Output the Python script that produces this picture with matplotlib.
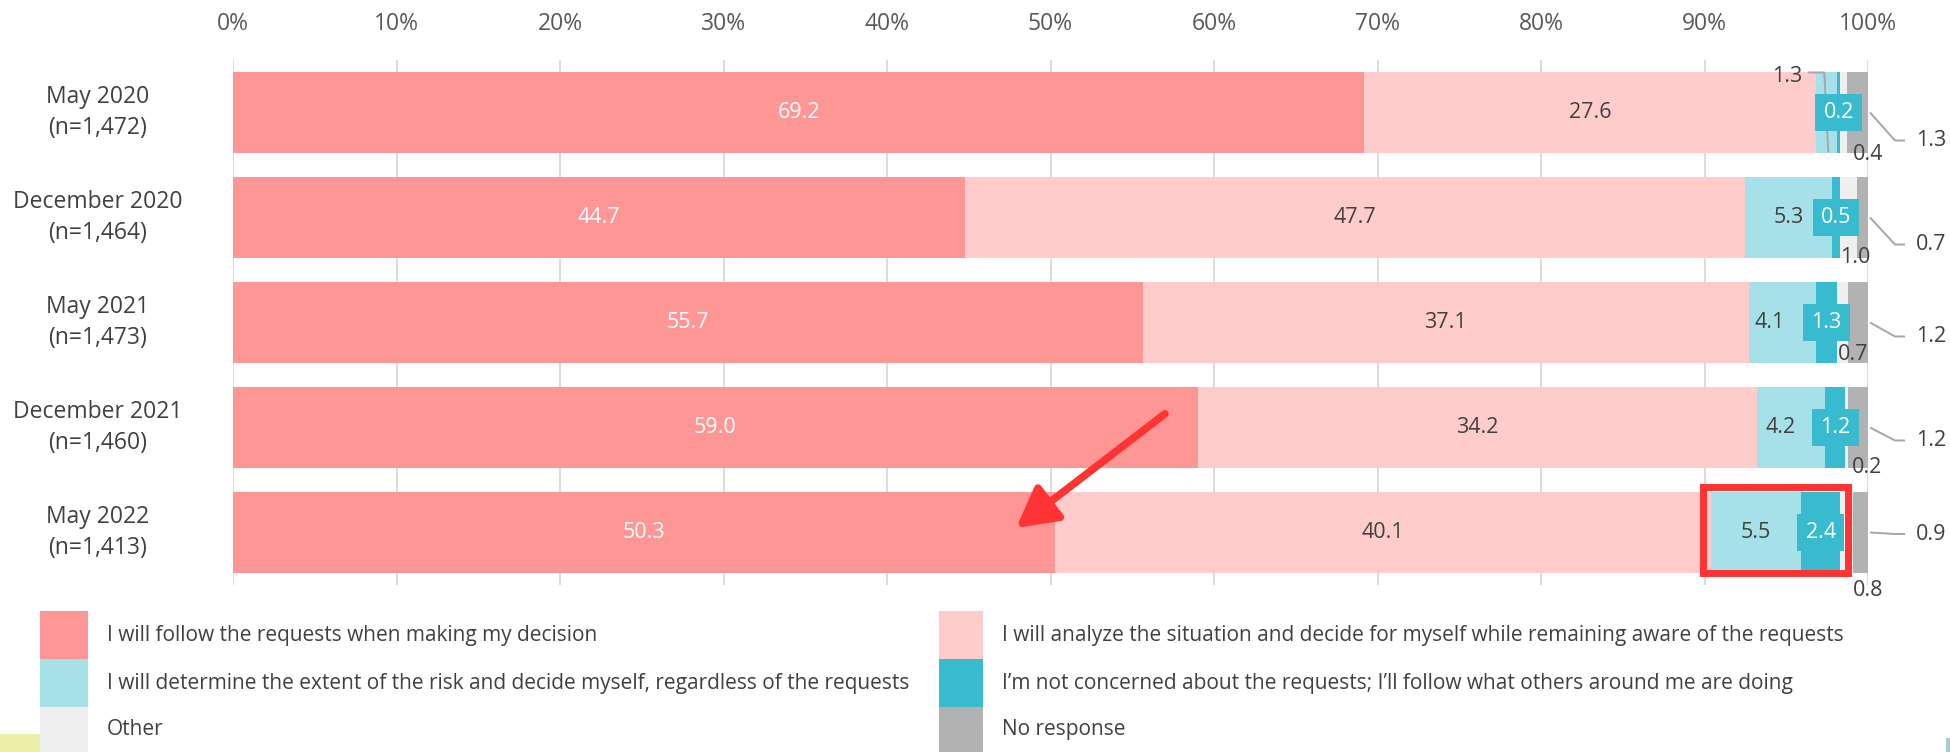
import matplotlib
matplotlib.use("Agg")
import matplotlib.pyplot as plt
import numpy as np
from matplotlib.patches import Rectangle
import matplotlib.patheffects as pe

plt.rcParams['font.family'] = ['Open Sans', 'DejaVu Sans']

# ---------------- data ----------------
periods = ['May 2020\n(n=1,472)', 'December 2020\n(n=1,464)', 'May 2021\n(n=1,473)',
           'December 2021\n(n=1,460)', 'May 2022\n(n=1,413)']
follow = [69.2, 44.7, 55.7, 59.0, 50.3]
analyze = [27.6, 47.7, 37.1, 34.2, 40.1]
determine = [1.3, 5.3, 4.1, 4.2, 5.5]
not_concerned = [0.2, 0.5, 1.3, 1.2, 2.4]
other = [0.4, 1.0, 0.7, 0.2, 0.8]
no_response = [1.3, 0.7, 1.2, 1.2, 0.9]
tick_values = [0, 10, 20, 30, 40, 50, 60, 70, 80, 90, 100]
tick_labels = ['0%', '10%', '20%', '30%', '40%', '50%', '60%', '70%', '80%', '90%', '100%']

legend_labels = [
    'I will follow the requests when making my decision',
    'I will analyze the situation and decide for myself while remaining aware of the requests',
    'I will determine the extent of the risk and decide myself, regardless of the requests',
    'I\u2019m not concerned about the requests; I\u2019ll follow what others around me are doing',
    'Other',
    'No response',
]
colors = ['#FF9696', '#FFCCCC', '#A6E0E8', '#38BBCF', '#EFEFEF', '#B2B2B2']
series = [follow, analyze, determine, not_concerned, other, no_response]

W, H, DPI = 1950, 752, 100
fig = plt.figure(figsize=(W / DPI, H / DPI), dpi=DPI)

def fx(px):
    return px / W

def fy(py):
    return 1 - py / H

ax_left, ax_right, ax_top, ax_bot = 233, 1868, 60, 585
ax = fig.add_axes([fx(ax_left), fy(ax_bot), (ax_right - ax_left) / W, (ax_bot - ax_top) / H])

data = np.array(series, dtype=float)
totals = data.sum(axis=0)
norm = data / totals * 100.0
n = len(periods)
y = np.arange(n)
bar_h = 0.767

lefts = np.zeros(n)
seg_centers = []
for s in range(len(series)):
    ax.barh(y, norm[s], left=lefts, height=bar_h, color=colors[s], edgecolor='none', zorder=2)
    seg_centers.append(lefts + norm[s] / 2)
    lefts = lefts + norm[s]

ax.set_xlim(0, 100)
ax.set_ylim(n - 0.5, -0.5)
ax.xaxis.tick_top()
ax.set_xticks(tick_values)
ax.set_xticklabels(tick_labels, fontsize=16.5, color='#595959')
ax.tick_params(axis='x', length=0, pad=17)
ax.set_yticks([])
for sp in ax.spines.values():
    sp.set_visible(False)
for tv in tick_values:
    ax.axvline(tv, color='#D9D9D9', lw=1.3, zorder=1)

# period labels
for i, p in enumerate(periods):
    ax.text(-0.0826, i, p, transform=ax.get_yaxis_transform(), ha='center', va='center',
            fontsize=16.5, color='#404040', linespacing=1.35)

dark = '#404040'
lab_fs = 15.5

def disp(x, yv):
    return ax.transData.transform((x, yv))

def to_data(px, py):
    return ax.transData.inverted().transform((px, py))

def offset_point(x, yv, dx, dy):
    # dx, dy in pixels, dy positive downward
    d = disp(x, yv)
    return to_data(d[0] + dx, d[1] - dy)

leader_c = '#A6A6A6'

def leader(x, yv, pts):
    xs, ys = [], []
    for dx, dy in pts:
        q = offset_point(x, yv, dx, dy)
        xs.append(q[0]); ys.append(q[1])
    ax.plot(xs, ys, color=leader_c, lw=1.4, zorder=5, clip_on=False, solid_capstyle='butt')

# series 0 and 1 labels
for i in range(n):
    ax.text(seg_centers[0][i], i, f'{follow[i]:.1f}', ha='center', va='center',
            fontsize=lab_fs, color='white', zorder=6)
    ax.text(seg_centers[1][i], i, f'{analyze[i]:.1f}', ha='center', va='center',
            fontsize=lab_fs, color=dark, zorder=6)

# determine labels (pixel offsets from segment centre)
det_off = [(-39, -36), (0, 0), (-13, 0), (-11, 0), (0, 0)]
for i in range(n):
    dx, dy = det_off[i]
    q = offset_point(seg_centers[2][i], i, dx, dy)
    ax.text(q[0], q[1], f'{determine[i]:.1f}', ha='center', va='center',
            fontsize=lab_fs, color=dark, zorder=6, clip_on=False)
leader(seg_centers[2][0], 0, [(-18, -40), (-2, -40), (2, 40)])

# not concerned labels in cyan boxes
for i in range(n):
    ax.text(seg_centers[3][i], i, f'{not_concerned[i]:.1f}', ha='center', va='center',
            fontsize=lab_fs, color='white', zorder=7,
            bbox=dict(boxstyle='square,pad=0.38', fc='#38BBCF', ec='none'))

# other labels
oth_off = [(25, 42), (7, 40), (10, 32), (20, 40), (21, 58)]
for i in range(n):
    dx, dy = oth_off[i]
    q = offset_point(seg_centers[4][i], i, dx, dy)
    ax.text(q[0], q[1], f'{other[i]:.1f}', ha='center', va='center',
            fontsize=lab_fs, color=dark, zorder=6, clip_on=False)

# no response labels with leaders
nr_dy = [28, 27, 14, 13, 1.5]
for i in range(n):
    dy = nr_dy[i]
    leader(100, i, [(2, 0), (27, dy), (37, dy)])
    q = offset_point(100, i, 63, dy)
    ax.text(q[0], q[1], f'{no_response[i]:.1f}', ha='center', va='center',
            fontsize=lab_fs, color=dark, zorder=6, clip_on=False)

# highlight box around the May 2022 right segments
ax.add_patch(Rectangle((89.9, 3.562), 98.8 - 89.9, 4.390 - 3.562, fill=False,
                       ec='#FF3333', lw=5, zorder=8, clip_on=False))

# red arrow
ax.annotate('', xy=(47.9, 3.957), xytext=(57.0, 2.87),
            arrowprops=dict(arrowstyle='-|>,head_length=1.1,head_width=0.6', color='#FF3333',
                            lw=5.5, mutation_scale=22, shrinkA=0, shrinkB=0,
                            path_effects=[pe.SimplePatchShadow(offset=(2, -2), alpha=0.25),
                                          pe.Normal()]),
            zorder=9)

# legend (manual)
rows_y = [611, 659, 707, 752]
cols_x = [(40, 88, 107), (939, 983, 1002)]
order = [[0, 2, 4], [1, 3, 5]]
for c, (x0, x1, tx) in enumerate(cols_x):
    for r in range(3):
        s = order[c][r]
        fig.add_artist(Rectangle((fx(x0), fy(rows_y[r + 1])), (x1 - x0) / W,
                                 (rows_y[r + 1] - rows_y[r]) / H,
                                 transform=fig.transFigure, fc=colors[s], ec='none'))
        fig.text(fx(tx), fy((rows_y[r] + rows_y[r + 1]) / 2), legend_labels[s],
                 ha='left', va='center', fontsize=15, color='#404040')

# small corner decorations present in the source image
fig.add_artist(Rectangle((0, 0), fx(40), 18 / H, transform=fig.transFigure,
                         fc='#EEF0AA', ec='none'))
fig.add_artist(Rectangle((fx(1946), 0), fx(4), 14 / H, transform=fig.transFigure,
                         fc='#A8CCD8', ec='none'))

fig.savefig('out.png', dpi=DPI)
